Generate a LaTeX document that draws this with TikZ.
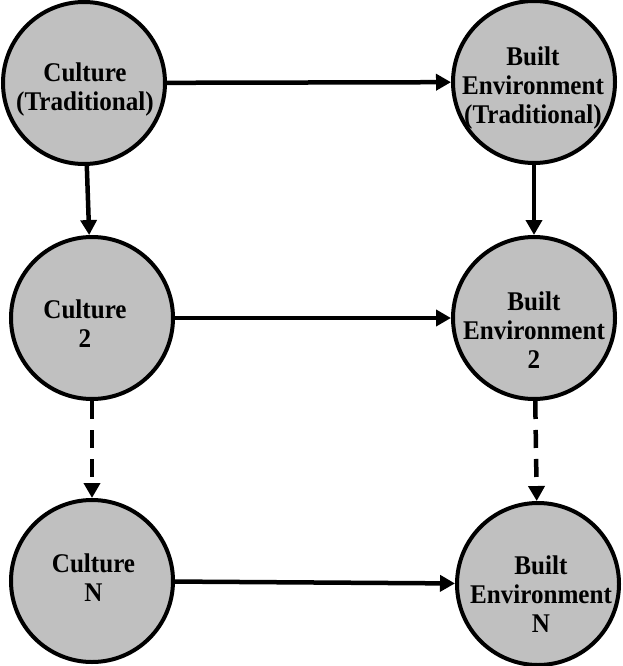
\documentclass[tikz,border=0pt]{standalone}
\usepackage{fontspec}
\setmainfont{Liberation Serif}
\newfontfamily\lblfont[FakeStretch=0.93]{Liberation Serif}
\usetikzlibrary{arrows.meta}
\definecolor{nodegray}{RGB}{192,192,192}
\begin{document}
\begin{tikzpicture}[x=1pt,y=1pt,
  bubble/.style={circle,draw=black,fill=nodegray,line width=4pt,minimum size=162pt,inner sep=0pt},
  lbl/.style={anchor=north,inner sep=0pt,align=center,
    font=\lblfont\bfseries\fontsize{27}{29}\selectfont},
  conn/.style={line width=4.5pt,-{Triangle[length=15pt,width=16pt]}},
  dconn/.style={conn,line width=4.5pt,dash pattern=on 18pt off 11pt}]
\useasboundingbox (0,0) rectangle (623,-666);
\node[bubble] (TL) at (84,-83) {};
\node[bubble] (TR) at (534,-82) {};
\node[bubble] (ML) at (92,-318) {};
\node[bubble] (MR) at (534,-318) {};
\node[bubble] (BL) at (92,-581) {};
\node[bubble] (BR) at (538,-584) {};
\node[lbl] (TLt) at (85,-62.5) {Culture\\(Traditional)};
\node[lbl] (TRt) at (533,-46.5) {Built\\Environment\\(Traditional)};
\node[lbl] (MLt) at (85,-299.5) {Culture\\2};
\node[lbl] (MRt) at (534,-291.5) {Built\\Environment\\2};
\node[lbl] (BLt) at (93.5,-553.5) {Culture\\N};
\node[lbl] (BRt) at (541,-555.5) {Built\\Environment\\N};
\draw[conn] (TL) -- (TR);
\draw[conn] (ML) -- (MR);
\draw[conn] (BL) -- (BR);
\draw[conn] (TL) -- (ML);
\draw[conn] (TR) -- (MR);
\draw[dconn] (ML) -- (BL);
\draw[dconn] (MR) -- (BR);
\end{tikzpicture}
\end{document}
